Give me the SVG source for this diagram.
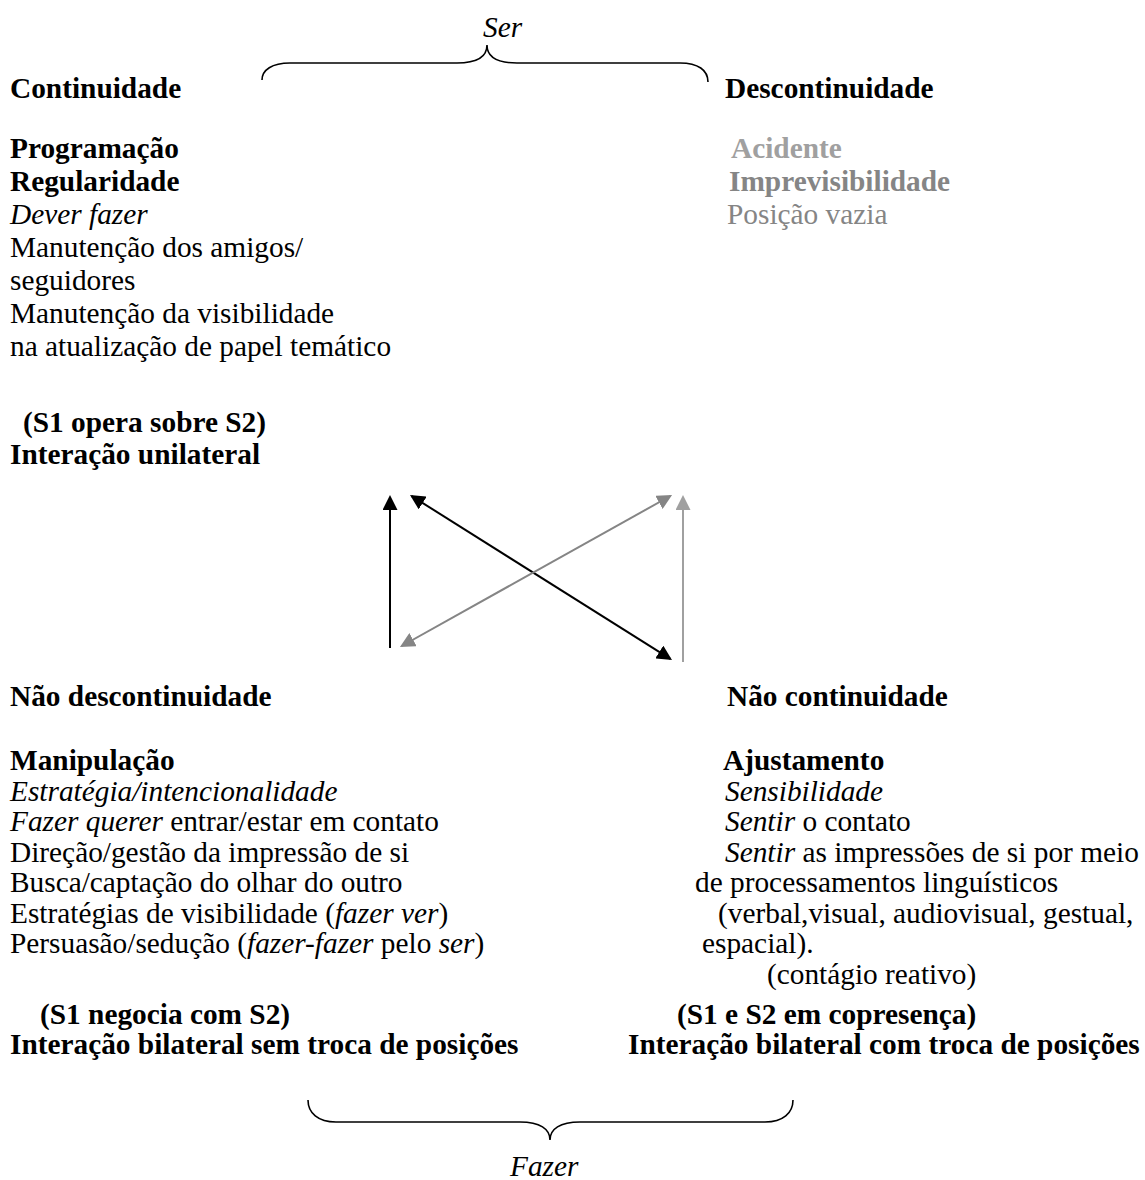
<svg xmlns="http://www.w3.org/2000/svg" width="1145" height="1180" viewBox="0 0 1145 1180">
<style>
text { font-family: "Liberation Serif", "Times New Roman", serif; font-size: 29.33px; fill: #000; }
.b { font-weight: bold; }
.i { font-style: italic; }
.g1 { fill: #a0a0a0; }
.g2 { fill: #858585; }
.brace { fill: none; stroke: #000; stroke-width: 1.6; }
.ab { stroke: #000; stroke-width: 2; fill: none; }
.ag { stroke: #858585; stroke-width: 2; fill: none; }
.ag2 { stroke: #a0a0a0; stroke-width: 2; fill: none; }
</style>
<defs>
<marker id="hb" viewBox="0 0 15 15" refX="13" refY="7.5" markerWidth="15" markerHeight="15" markerUnits="userSpaceOnUse" orient="auto-start-reverse"><path d="M0,0 L15,7.5 L0,15 z" fill="#000"/></marker>
<marker id="hg" viewBox="0 0 15 15" refX="13" refY="7.5" markerWidth="15" markerHeight="15" markerUnits="userSpaceOnUse" orient="auto-start-reverse"><path d="M0,0 L15,7.5 L0,15 z" fill="#858585"/></marker>
<marker id="hg2" viewBox="0 0 15 15" refX="13" refY="7.5" markerWidth="15" markerHeight="15" markerUnits="userSpaceOnUse" orient="auto-start-reverse"><path d="M0,0 L15,7.5 L0,15 z" fill="#a0a0a0"/></marker>
</defs>
<rect width="1145" height="1180" fill="#fff"/>

<g id="ser">
<text class="i" x="483" y="37">Ser</text>
<path class="brace" d="M262,80 C262,70 272,63 290,63 L457,63 C477,63 487,57 487,45 C487,57 497,63 517,63 L680,63 C698,63 708,70 708,82"/>
</g>

<g id="continuidade">
<text class="b" x="10" y="98">Continuidade</text>
<text class="b" x="10" y="158">Programação</text>
<text class="b" x="10" y="191">Regularidade</text>
<text class="i" x="10" y="224">Dever fazer</text>
<text x="10" y="257">Manutenção dos amigos/</text>
<text x="10" y="290">seguidores</text>
<text x="10" y="323">Manutenção da visibilidade</text>
<text x="10" y="356">na atualização de papel temático</text>
<text class="b" x="23" y="432">(S1 opera sobre S2)</text>
<text class="b" x="10" y="464">Interação unilateral</text>
</g>

<g id="descontinuidade">
<text class="b" x="725" y="98">Descontinuidade</text>
<text class="b g1" x="731" y="158">Acidente</text>
<text class="b g2" x="729" y="191">Imprevisibilidade</text>
<text class="g2" x="727" y="224">Posição vazia</text>
</g>

<g id="nao-descontinuidade">
<text class="b" x="10" y="706">Não descontinuidade</text>
<text class="b" x="10" y="770">Manipulação</text>
<text class="i" x="10" y="801">Estratégia/intencionalidade</text>
<text x="10" y="831"><tspan class="i">Fazer querer</tspan> entrar/estar em contato</text>
<text x="10" y="862">Direção/gestão da impressão de si</text>
<text x="10" y="892">Busca/captação do olhar do outro</text>
<text x="10" y="923">Estratégias de visibilidade (<tspan class="i">fazer ver</tspan>)</text>
<text x="10" y="953">Persuasão/sedução (<tspan class="i">fazer-fazer</tspan> pelo <tspan class="i">ser</tspan>)</text>
<text class="b" x="40" y="1024">(S1 negocia com S2)</text>
<text class="b" x="10" y="1054">Interação bilateral sem troca de posições</text>
</g>

<g id="nao-continuidade">
<text class="b" x="727" y="706">Não continuidade</text>
<text class="b" x="723" y="770">Ajustamento</text>
<text class="i" x="725" y="801">Sensibilidade</text>
<text x="725" y="831"><tspan class="i">Sentir</tspan> o contato</text>
<text x="725" y="862"><tspan class="i">Sentir</tspan> as impressões de si por meio</text>
<text x="695" y="892">de processamentos linguísticos</text>
<text x="718" y="923">(verbal,visual, audiovisual, gestual,</text>
<text x="702" y="953">espacial).</text>
<text x="767" y="984">(contágio reativo)</text>
<text class="b" x="677" y="1024">(S1 e S2 em copresença)</text>
<text class="b" x="628" y="1054">Interação bilateral com troca de posições</text>
</g>

<g id="fazer">
<path class="brace" d="M308,1100 C308,1113 318,1122 336,1122 L520,1122 C540,1122 550,1129 550,1140 C550,1129 560,1122 580,1122 L765,1122 C783,1122 793,1113 793,1100"/>
<text class="i" x="510" y="1176">Fazer</text>
</g>

<g id="connectors">
<line class="ab" x1="390" y1="648" x2="390" y2="497" marker-end="url(#hb)"/>
<line class="ab" x1="411.7" y1="496.1" x2="670.3" y2="658.9" marker-start="url(#hb)" marker-end="url(#hb)"/>
<line class="ag" x1="401.7" y1="646" x2="670.3" y2="496" marker-start="url(#hg)" marker-end="url(#hg)"/>
<line class="ag2" x1="683" y1="662" x2="683" y2="497" marker-end="url(#hg2)"/>
</g>
</svg>
